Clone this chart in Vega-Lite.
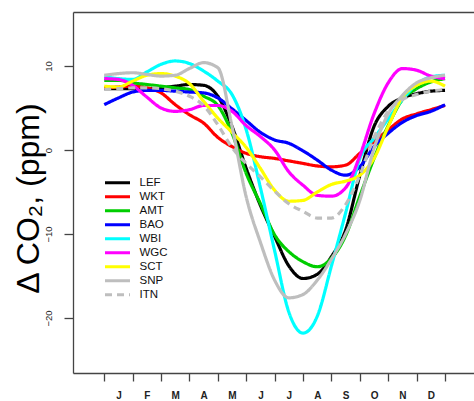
{
  "$schema": "https://vega.github.io/schema/vega-lite/v6.json",
  "width": 401,
  "height": 361,
  "autosize": {"type": "none"},
  "padding": {"left": 73, "top": 12, "right": 0, "bottom": 28},
  "background": "white",
  "config": {"view": {"stroke": null}, "font": "Liberation Sans"},
  "data": {
    "values": [
      {"m": 0.5, "LEF": 7.3, "WKT": 7.4, "AMT": 8.3, "BAO": 5.4, "WBI": 8.7, "WGC": 8.5, "SCT": 7.6, "SNP": 8.9, "ITN": 7.2},
      {"m": 1.0, "LEF": 7.3, "WKT": 7.5, "AMT": 8.3, "BAO": 6.2, "WBI": 8.5, "WGC": 8.4, "SCT": 7.5, "SNP": 9.1, "ITN": 7.3},
      {"m": 1.5, "LEF": 7.3, "WKT": 7.6, "AMT": 8.0, "BAO": 6.9, "WBI": 8.4, "WGC": 7.7, "SCT": 8.2, "SNP": 9.2, "ITN": 7.4},
      {"m": 2.0, "LEF": 7.3, "WKT": 7.4, "AMT": 7.8, "BAO": 7.1, "WBI": 9.3, "WGC": 6.3, "SCT": 8.9, "SNP": 9.0, "ITN": 7.4},
      {"m": 2.5, "LEF": 7.4, "WKT": 6.8, "AMT": 7.6, "BAO": 7.1, "WBI": 10.2, "WGC": 5.0, "SCT": 9.1, "SNP": 8.8, "ITN": 7.3},
      {"m": 3.0, "LEF": 7.6, "WKT": 5.4, "AMT": 7.4, "BAO": 7.0, "WBI": 10.6, "WGC": 4.6, "SCT": 8.8, "SNP": 8.9, "ITN": 7.0},
      {"m": 3.5, "LEF": 7.8, "WKT": 4.2, "AMT": 7.2, "BAO": 6.9, "WBI": 10.3, "WGC": 4.8, "SCT": 7.9, "SNP": 9.7, "ITN": 6.4},
      {"m": 4.0, "LEF": 7.7, "WKT": 3.2, "AMT": 6.4, "BAO": 6.8, "WBI": 9.4, "WGC": 5.3, "SCT": 5.8, "SNP": 10.4, "ITN": 5.3},
      {"m": 4.5, "LEF": 6.4, "WKT": 1.5, "AMT": 5.3, "BAO": 6.2, "WBI": 8.2, "WGC": 5.3, "SCT": 3.8, "SNP": 9.8, "ITN": 3.0},
      {"m": 5.0, "LEF": 2.8, "WKT": 0.4, "AMT": 2.0, "BAO": 4.9, "WBI": 6.6, "WGC": 4.6, "SCT": 2.1, "SNP": 2.8, "ITN": 0.3},
      {"m": 5.5, "LEF": -2.2, "WKT": -0.4, "AMT": -2.8, "BAO": 3.5, "WBI": 2.4, "WGC": 2.9, "SCT": 0.3, "SNP": -5.6, "ITN": -1.6},
      {"m": 6.0, "LEF": -6.6, "WKT": -0.8, "AMT": -6.4, "BAO": 2.1, "WBI": -4.5, "WGC": 1.6, "SCT": -2.2, "SNP": -11.0, "ITN": -3.2},
      {"m": 6.5, "LEF": -10.3, "WKT": -1.0, "AMT": -10.1, "BAO": 1.2, "WBI": -12.0, "WGC": 0.0, "SCT": -4.8, "SNP": -15.5, "ITN": -4.9},
      {"m": 7.0, "LEF": -13.8, "WKT": -1.3, "AMT": -12.1, "BAO": 0.8, "WBI": -19.3, "WGC": -2.6, "SCT": -6.1, "SNP": -17.6, "ITN": -6.4},
      {"m": 7.5, "LEF": -15.3, "WKT": -1.6, "AMT": -13.3, "BAO": -0.1, "WBI": -21.8, "WGC": -4.2, "SCT": -6.0, "SNP": -17.2, "ITN": -7.3},
      {"m": 8.0, "LEF": -14.8, "WKT": -1.9, "AMT": -13.9, "BAO": -1.2, "WBI": -19.8, "WGC": -5.4, "SCT": -5.0, "SNP": -15.5, "ITN": -8.1},
      {"m": 8.5, "LEF": -12.7, "WKT": -2.0, "AMT": -12.9, "BAO": -2.4, "WBI": -13.8, "WGC": -5.5, "SCT": -4.1, "SNP": -13.0, "ITN": -8.1},
      {"m": 9.0, "LEF": -9.5, "WKT": -1.8, "AMT": -10.2, "BAO": -3.0, "WBI": -7.5, "WGC": -4.5, "SCT": -3.7, "SNP": -10.0, "ITN": -6.5},
      {"m": 9.5, "LEF": -3.0, "WKT": -0.4, "AMT": -5.5, "BAO": -2.0, "WBI": -1.0, "WGC": -0.7, "SCT": -3.0, "SNP": -6.0, "ITN": -3.0},
      {"m": 10.0, "LEF": 2.8, "WKT": 1.0, "AMT": -1.0, "BAO": 0.4, "WBI": 1.4, "WGC": 4.3, "SCT": -1.0, "SNP": 0.2, "ITN": 1.5},
      {"m": 10.5, "LEF": 5.2, "WKT": 2.4, "AMT": 2.9, "BAO": 2.0, "WBI": 3.7, "WGC": 8.0, "SCT": 2.8, "SNP": 4.3, "ITN": 4.6},
      {"m": 11.0, "LEF": 6.2, "WKT": 3.7, "AMT": 6.0, "BAO": 3.3, "WBI": 6.0, "WGC": 9.7, "SCT": 6.3, "SNP": 6.5, "ITN": 6.0},
      {"m": 11.5, "LEF": 6.7, "WKT": 4.3, "AMT": 7.3, "BAO": 4.1, "WBI": 7.8, "WGC": 9.5, "SCT": 7.7, "SNP": 8.0, "ITN": 6.6},
      {"m": 12.0, "LEF": 7.0, "WKT": 4.8, "AMT": 8.1, "BAO": 4.6, "WBI": 8.7, "WGC": 8.8, "SCT": 8.2, "SNP": 8.6, "ITN": 7.0},
      {"m": 12.5, "LEF": 7.1, "WKT": 5.3, "AMT": 8.5, "BAO": 5.4, "WBI": 8.9, "WGC": 8.5, "SCT": 7.6, "SNP": 8.9, "ITN": 7.2}
    ]
  },
  "transform": [
    {"fold": ["LEF", "WKT", "AMT", "BAO", "WBI", "WGC", "SCT", "SNP", "ITN"], "as": ["site", "v"]}
  ],
  "layer": [
    {
      "mark": {"type": "line", "interpolate": "monotone", "strokeWidth": 3.2, "clip": true},
      "encoding": {
        "x": {
          "field": "m",
          "type": "quantitative",
          "scale": {"domain": [-0.6, 13.52], "nice": false, "zero": false},
          "axis": {
            "orient": "bottom",
            "title": null,
            "grid": false,
            "values": [0.5, 1, 1.5, 2, 2.5, 3, 3.5, 4, 4.5, 5, 5.5, 6, 6.5, 7, 7.5, 8, 8.5, 9, 9.5, 10, 10.5, 11, 11.5, 12, 12.5],
            "labelExpr": "datum.value % 1 == 0 ? ['J','F','M','A','M','J','J','A','S','O','N','D'][datum.value - 1] : ''",
            "tickOpacity": {"condition": {"test": "datum.value % 1 == 0", "value": 0}, "value": 1},
            "tickSize": 8,
            "tickWidth": 1.3,
            "tickColor": "#444",
            "domainColor": "#444",
            "domainWidth": 1.3,
            "labelFontSize": 10,
            "labelFontWeight": "bold",
            "labelColor": "#222",
            "labelPadding": 9,
            "labelFlush": false,
            "labelOverlap": false,
            "labelBound": false
          }
        },
        "y": {
          "field": "v",
          "type": "quantitative",
          "scale": {"domain": [-26.55, 16.43], "nice": false, "zero": false},
          "axis": {
            "orient": "left",
            "grid": false,
            "values": [-20, -10, 0, 10],
            "labelAngle": -90,
            "labelAlign": "center",
            "labelBaseline": "bottom",
            "labelFont": "Liberation Sans Narrow, Liberation Sans",
            "labelFontSize": 9.5,
            "labelColor": "#222",
            "labelPadding": 11,
            "tickSize": 9,
            "tickWidth": 1.3,
            "tickColor": "#444",
            "domainColor": "#444",
            "domainWidth": 1.3,
            "title": "Δ CO₂, (ppm)",
            "titleFont": "Liberation Sans Narrow, Liberation Sans",
            "titleFontSize": 32,
            "titleFontWeight": "normal",
            "titleColor": "#000",
            "titleAngle": 270,
            "titleAlign": "center",
            "titleBaseline": "alphabetic",
            "titleX": -35,
            "titleY": 186
          }
        },
        "color": {
          "field": "site",
          "type": "nominal",
          "scale": {
            "domain": ["LEF", "WKT", "AMT", "BAO", "WBI", "WGC", "SCT", "SNP", "ITN"],
            "range": ["#000000", "#ff0000", "#00cd00", "#0000ff", "#00ffff", "#ff00ff", "#ffff00", "#bebebe", "#bebebe"]
          },
          "legend": {
            "title": null,
            "orient": "none",
            "legendX": 30.5,
            "legendY": 163.7,
            "symbolType": "stroke",
            "symbolSize": 625,
            "symbolStrokeWidth": 3,
            "clipHeight": 14,
            "rowPadding": 0,
            "padding": 0,
            "labelOffset": 8,
            "labelFontSize": 11.5,
            "labelColor": "#111"
          }
        },
        "strokeDash": {
          "field": "site",
          "type": "nominal",
          "scale": {
            "domain": ["LEF", "WKT", "AMT", "BAO", "WBI", "WGC", "SCT", "SNP", "ITN"],
            "range": [[1, 0], [1, 0], [1, 0], [1, 0], [1, 0], [1, 0], [1, 0], [1, 0], [7, 5]]
          },
          "legend": {
            "title": null,
            "orient": "none",
            "legendX": 30.5,
            "legendY": 163.7,
            "symbolType": "stroke",
            "symbolSize": 625,
            "symbolStrokeWidth": 3,
            "clipHeight": 14,
            "rowPadding": 0,
            "padding": 0,
            "labelOffset": 8,
            "labelFontSize": 11.5,
            "labelColor": "#111"
          }
        }
      }
    },
    {
      "mark": {"type": "rule", "opacity": 0},
      "encoding": {
        "x": {
          "field": "m",
          "type": "quantitative",
          "axis": {
            "orient": "top",
            "title": null,
            "grid": false,
            "ticks": false,
            "labels": false,
            "domainColor": "#444",
            "domainWidth": 1.3
          }
        }
      }
    }
  ]
}
